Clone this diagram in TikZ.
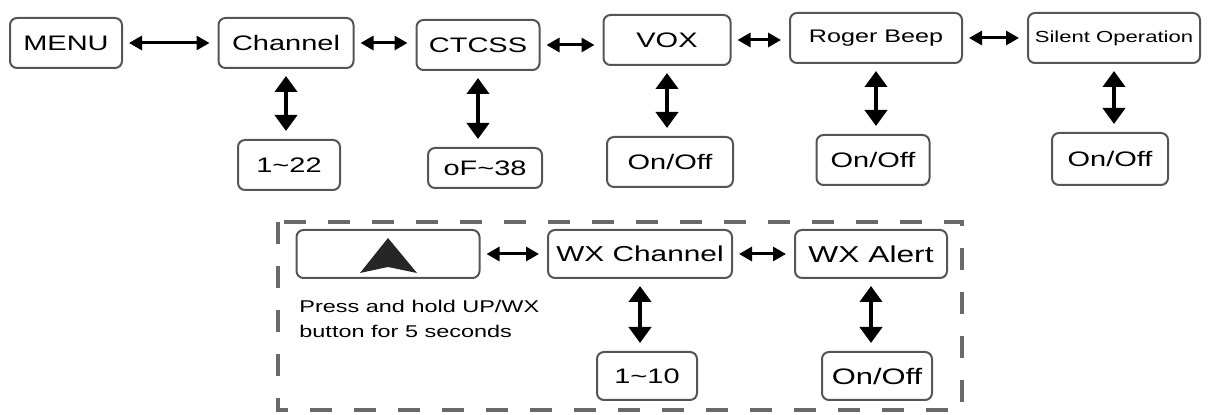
\documentclass[tikz,border=0pt]{standalone}
\usepackage{fontspec}
\setmainfont{Liberation Sans}[FakeStretch=1.38]
\usetikzlibrary{arrows.meta,positioning}
\definecolor{BoxGray}{RGB}{85,85,85}
\definecolor{DashGray}{RGB}{105,105,105}
\newcommand{\tildech}{\char"7E\relax}

\begin{document}
\begin{tikzpicture}[x=0.5pt, y=-0.5pt,
	menubox/.style={draw=BoxGray, line width=1pt, rounded corners=3.5pt, fill=white,
		inner sep=0pt, minimum height=25pt, font=\fontsize{10.5}{12}\selectfont},
	harr/.style={{Triangle[length=6.5pt,width=7pt]}-{Triangle[length=6.5pt,width=7pt]},
		line width=1.5pt, shorten <=3pt, shorten >=4pt},
	varr/.style={{Triangle[length=8pt,width=11pt]}-{Triangle[length=8pt,width=11pt]},
		line width=2pt, shorten <=3.5pt, shorten >=4pt}]
	\useasboundingbox (0,0) rectangle (1209,415);

	% 菜单主行
	\node[menubox, minimum width=56pt]   (menu)   at (66,43)   {MENU};
	\node[menubox, minimum width=67.5pt] (chan)   at (286,43)  {Channel};
	\node[menubox, minimum width=61.5pt] (ctcss)  at (478,45)  {CTCSS};
	\node[menubox, minimum width=63.5pt] (vox)    at (667,40)  {VOX};
	\node[menubox, minimum width=86pt, font=\fontsize{9.1}{11}\selectfont] (roger) at (876,38) {Roger Beep};
	\node[menubox, minimum width=86pt, font=\fontsize{8}{10}\selectfont] (silent) at (1114,38) {Silent Operation};

	% 取值
	\node[menubox, minimum width=51pt]   (chanval)   at (289,165)  {1\tildech22};
	\node[menubox, minimum width=57pt, minimum height=20pt] (ctcssval) at (485,168) {oF\tildech38};
	\node[menubox, minimum width=63pt]   (voxval)    at (670,162)  {On/Off};
	\node[menubox, minimum width=56.5pt] (rogerval)  at (873,160)  {On/Off};
	\node[menubox, minimum width=58pt, minimum height=26pt] (silentval) at (1110,159) {On/Off};

	\draw[harr] (menu.east)  -- (menu.east -| chan.west);
	\draw[harr] (chan.east)  -- (chan.east -| ctcss.west);
	\draw[harr] (ctcss.east) -- (ctcss.east -| vox.west);
	\draw[harr] (vox.east)   -- (vox.east -| roger.west);
	\draw[harr] (roger.east) -- (roger.east -| silent.west);

	\draw[varr] (chan.south)   -- (chan.south |- chanval.north);
	\draw[varr] (ctcss.south)  -- (ctcss.south |- ctcssval.north);
	\draw[varr] (vox.south)    -- (vox.south |- voxval.north);
	\draw[varr] (roger.south)  -- (roger.south |- rogerval.north);
	\draw[varr] (silent.south) -- (silent.south |- silentval.north);

	% 天气频道
	\draw[DashGray, line width=2pt, dash pattern=on 11pt off 11pt] (278,222) rectangle (962,410);

	\node[menubox, minimum width=91.5pt, minimum height=24pt] (up) at (388,254) {};
	\fill[black!85] ([shift={(-28,19)}]up.center) -- ([shift={(0,-16)}]up.center)
		-- ([shift={(29,19)}]up.center) -- ([shift={(0,13)}]up.center) -- cycle;
	\node[menubox, minimum width=92pt, minimum height=24pt, font=\fontsize{10.8}{12}\selectfont] (wxchan) at (640,254) {WX Channel};
	\node[menubox, minimum width=76pt, minimum height=24pt, font=\fontsize{11.5}{13}\selectfont] (wxalert) at (871,254) {WX Alert};
	\node[menubox, minimum width=50pt, minimum height=24pt] (wxchanval) at (647,376) {1\tildech10};
	\node[menubox, minimum width=55pt, minimum height=24pt, font=\fontsize{11.2}{13}\selectfont] (wxalertval) at (877,376) {On/Off};

	\node[anchor=north west, inner sep=0pt, align=left, font=\fontsize{8.5}{12.5}\selectfont] (note) at (299,300)
		{Press and hold UP/WX\\button for 5 seconds};

	\draw[harr] (up.east)     -- (up.east -| wxchan.west);
	\draw[harr] (wxchan.east) -- (wxchan.east -| wxalert.west);
	\draw[varr] (wxchan.south)  -- (wxchan.south |- wxchanval.north);
	\draw[varr] (wxalert.south) -- (wxalert.south |- wxalertval.north);
\end{tikzpicture}
\end{document}
